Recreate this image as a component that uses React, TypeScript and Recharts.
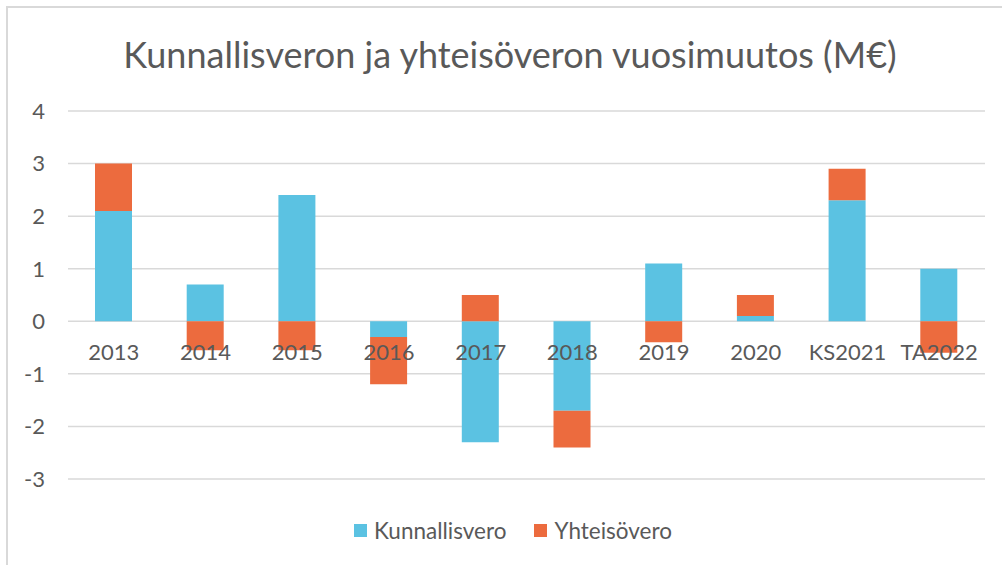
import { BarChart, Bar, XAxis, YAxis, CartesianGrid, Legend } from 'recharts'

const years = ['2013', '2014', '2015', '2016', '2017', '2018', '2019', '2020', 'KS2021', 'TA2022']
const kunnallisvero = [2.1, 0.7, 2.4, -0.3, -2.3, -1.7, 1.1, 0.1, 2.3, 1.0]
const yhteisovero = [0.9, -0.55, -0.55, -0.9, 0.5, -0.7, -0.4, 0.4, 0.6, -0.6]
const yTicks = [4, 3, 2, 1, 0, -1, -2, -3]

const Y_MIN = -3
const Y_MAX = 4
const PLOT_TOP = 111
const PLOT_BOTTOM = 479
const X_AXIS_H = 30
const ZERO_Y = PLOT_TOP + (PLOT_BOTTOM - PLOT_TOP) * (Y_MAX / (Y_MAX - Y_MIN))

const FONT = 'Lato, "Open Sans", sans-serif'
const TEXT = '#595959'
const BLUE = '#5BC2E2'
const ORANGE = '#EC6B3E'

const data = years.map((y, i) => ({
  year: y,
  Kunnallisvero: kunnallisvero[i],
  Yhteisövero: yhteisovero[i],
}))

function YearTick(props: any) {
  const { x, payload } = props
  // Excel draws category labels next to the zero line
  return (
    <text x={x} y={ZERO_Y + 39} textAnchor="middle" fill={TEXT} fontSize={22} fontFamily={FONT}>
      {payload.value}
    </text>
  )
}

function LegendContent({ payload }: any) {
  return (
    <div style={{ display: 'flex', justifyContent: 'center', gap: 28, fontFamily: FONT, fontSize: 22.5, color: TEXT }}>
      {(payload || []).map((p: any) => (
        <div key={p.value} style={{ display: 'flex', alignItems: 'center', gap: 7 }}>
          <span style={{ display: 'inline-block', width: 13, height: 13, background: p.color }} />
          <span>{p.value}</span>
        </div>
      ))}
    </div>
  )
}

export default function App() {
  return (
    <div style={{ position: 'absolute', left: 0, top: 0, width: 1002, height: 565, background: '#fff', overflow: 'hidden' }}>
      <div style={{ position: 'absolute', left: 6, top: 6, width: 1000, height: 570, borderLeft: '2px solid #d9d9d9', borderTop: '2px solid #d9d9d9' }} />
      <div style={{ position: 'absolute', left: 0, top: 31, width: 1020, textAlign: 'center', fontFamily: FONT, fontSize: 36, color: TEXT, lineHeight: '46px' }}>
        Kunnallisveron ja yhteisöveron vuosimuutos (M€)
      </div>
      <div style={{ position: 'absolute', left: 0, top: 0 }}>
        <BarChart
          width={1002}
          height={565}
          data={data}
          stackOffset="sign"
          barSize={37}
          margin={{ top: PLOT_TOP, right: 17, bottom: 565 - PLOT_BOTTOM - X_AXIS_H, left: 0 }}
        >
          <CartesianGrid vertical={false} stroke="#d9d9d9" strokeWidth={1.5} />
          <YAxis
            width={68}
            domain={[Y_MIN, Y_MAX]}
            ticks={yTicks}
            axisLine={false}
            tickLine={false}
            tickSize={0}
            tickMargin={23}
            tick={{ fill: TEXT, fontSize: 22, fontFamily: FONT }}
          />
          <Legend verticalAlign="middle" layout="horizontal" align="center" wrapperStyle={{ top: 517, left: 12, width: 1002 }} content={<LegendContent />} />
          <Bar dataKey="Kunnallisvero" stackId="a" fill={BLUE} isAnimationActive={false} />
          <Bar dataKey="Yhteisövero" stackId="a" fill={ORANGE} isAnimationActive={false} />
          <XAxis dataKey="year" height={X_AXIS_H} axisLine={false} tickLine={false} tick={YearTick} interval={0} />
        </BarChart>
      </div>
    </div>
  )
}
